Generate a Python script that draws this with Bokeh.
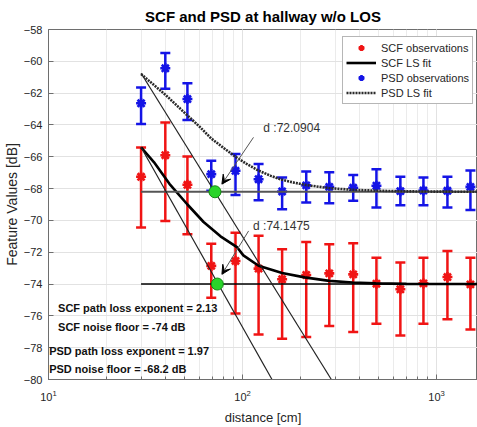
from bokeh.plotting import figure
from bokeh.models import (ColumnDataSource, Whisker, TeeHead, Arrow, VeeHead, Label,
                          Legend, LegendItem, FixedTicker, Range1d)
from bokeh.embed import file_html
from bokeh.resources import INLINE

# ---------------- data ----------------
distance = [30, 40, 52, 69, 92, 121, 160, 213, 280, 372, 490, 651, 856, 1138, 1495]

scf_mean = [-67.26, -65.90, -67.76, -72.86, -72.55, -73.03, -73.70, -73.43,
            -73.33, -73.39, -73.98, -74.33, -73.96, -73.56, -74.02]
scf_upper = [-65.41, -63.84, -65.98, -71.46, -70.77, -70.97, -71.82, -71.35,
             -71.50, -71.44, -72.34, -72.65, -72.34, -71.92, -72.34]
scf_lower = [-70.45, -70.03, -70.87, -74.86, -75.85, -77.17, -77.44, -77.33,
             -76.64, -77.02, -76.50, -77.23, -76.50, -76.22, -76.85]

psd_mean = [-62.64, -60.44, -62.37, -67.09, -66.88, -67.41, -68.18, -67.80,
            -67.89, -67.95, -67.82, -68.16, -68.12, -68.14, -67.89]
psd_upper = [-61.65, -59.47, -61.38, -66.25, -65.83, -66.46, -67.31, -66.93,
             -66.97, -67.15, -66.78, -67.25, -67.30, -67.25, -66.86]
psd_lower = [-63.94, -61.72, -63.69, -68.14, -68.41, -68.73, -69.30, -68.88,
             -68.92, -68.77, -69.19, -69.04, -69.04, -69.19, -69.34]

scf_fit_d = [30, 35, 42, 52, 63, 77, 94, 101, 121, 160, 209, 280, 369, 486, 700, 1000, 1626]
scf_fit_v = [-65.4, -66.35, -67.7, -69.0, -70.1, -71.0, -71.7, -72.2, -72.85, -73.3,
             -73.58, -73.8, -73.9, -73.96, -73.99, -74.0, -74.0]

psd_fit_d = [30, 40, 52, 60, 69, 80, 92, 105, 121, 140, 160, 185, 213, 280, 372, 490, 651, 1000, 1626]
psd_fit_v = [-60.8, -62.1, -63.4, -64.1, -64.85, -65.45, -66.0, -66.45, -66.87, -67.2,
             -67.45, -67.63, -67.78, -67.97, -68.08, -68.13, -68.17, -68.19, -68.2]

scf_pl_d = [30, 141.9]
scf_pl_v = [-65.4, -80.0]
psd_pl_d = [30, 287]
psd_pl_v = [-60.75, -80.0]

floor_d = [30, 1626]
scf_exponent, scf_floor, scf_cross = 2.13, -74.0, 74.1475
psd_exponent, psd_floor, psd_cross = 1.97, -68.2, 72.0904

y_ticks = list(range(-80, -57, 2))
x_limits = (10, 1626)
y_limits = (-80, -58)

info_texts = [
    f"SCF path loss exponent = {scf_exponent}",
    f"SCF noise floor = {scf_floor:g} dB",
    f"PSD path loss exponent = {psd_exponent}",
    f"PSD noise floor = {psd_floor:g} dB",
]

# ---------------- styling ----------------
RED = "#f01414"
BLUE = "#1414e6"
FONT = "Liberation Sans"
TXT = "#262626"

p = figure(frame_width=429, frame_height=350, x_axis_type="log",
           x_range=Range1d(*x_limits), y_range=Range1d(*y_limits),
           output_backend="svg", toolbar_location=None,
           min_border_left=40, min_border_right=0, min_border_top=24, min_border_bottom=10,
           title="SCF and PSD at hallway w/o LOS")

p.title.align = "center"
p.title.text_font = FONT
p.title.text_font_size = "15px"
p.title.text_font_style = "bold"
p.title.text_color = "black"

p.background_fill_color = "white"
p.border_fill_color = "white"
p.outline_line_color = "#6e6e6e"

p.xgrid.grid_line_color = "#e2e2e2"
p.xgrid.minor_grid_line_color = "#ebebeb"
p.ygrid.grid_line_color = "#e2e2e2"

p.yaxis.ticker = FixedTicker(ticks=y_ticks)

for ax in (p.xaxis[0], p.yaxis[0]):
    ax.axis_line_color = "#6e6e6e"
    ax.major_tick_line_color = "#6e6e6e"
    ax.minor_tick_line_color = "#6e6e6e"
    ax.major_tick_in = 5
    ax.major_tick_out = 0
    ax.minor_tick_in = 3
    ax.minor_tick_out = 0
    ax.major_label_text_font = FONT
    ax.major_label_text_font_size = "11px"
    ax.major_label_text_color = TXT
    ax.axis_label_text_font = FONT
    ax.axis_label_text_font_style = "normal"
    ax.axis_label_text_color = TXT

p.yaxis.minor_tick_line_color = None
p.yaxis.major_label_standoff = 6
p.yaxis.axis_label = "Feature Values [dB]"
p.yaxis.axis_label_text_font_size = "14px"
p.yaxis.axis_label_standoff = 1

p.xaxis.major_label_standoff = 10
p.xaxis.axis_label = "distance [cm]"
p.xaxis.axis_label_text_font_size = "13px"
p.xaxis.axis_label_standoff = 6

# error bars
src_scf = ColumnDataSource(dict(x=distance, y=scf_mean, upper=scf_upper, lower=scf_lower))
src_psd = ColumnDataSource(dict(x=distance, y=psd_mean, upper=psd_upper, lower=psd_lower))

for src, col in ((src_scf, RED), (src_psd, BLUE)):
    w = Whisker(base="x", upper="upper", lower="lower", source=src, dimension="height",
                line_color=col, line_width=2.5,
                upper_head=TeeHead(size=10, line_color=col, line_width=2.5),
                lower_head=TeeHead(size=10, line_color=col, line_width=2.5))
    p.add_layout(w)

r_scf_obs = p.scatter("x", "y", source=src_scf, marker="asterisk", size=10,
                      line_color=RED, line_width=2.6)
r_scf_fit = p.line(scf_fit_d, scf_fit_v, line_color="black", line_width=2.6)
r_psd_obs = p.scatter("x", "y", source=src_psd, marker="asterisk", size=10,
                      line_color=BLUE, line_width=2.6)

# floors and path loss lines
p.line(floor_d, [psd_floor, psd_floor], line_color="#555555", line_width=2)
p.line(floor_d, [scf_floor, scf_floor], line_color="black", line_width=1.4)
p.line(scf_pl_d, scf_pl_v, line_color="#222222", line_width=1.2)
p.line(psd_pl_d, psd_pl_v, line_color="#222222", line_width=1.2)

r_psd_fit = p.line(psd_fit_d, psd_fit_v, line_color="#2a2a2a", line_width=2.6, line_dash="2 1")

# crossing points
p.scatter([psd_cross, scf_cross], [psd_floor, scf_floor], marker="circle", size=12,
          fill_color="#2ad42a", line_color="#138a13", line_width=1)

# arrows and their labels
p.add_layout(Arrow(x_start=psd_cross * 1.58, y_start=psd_floor + 3.42,
                   x_end=psd_cross * 1.086, y_end=psd_floor + 0.48,
                   line_color="#555555", line_width=1,
                   end=VeeHead(size=9, fill_color="black", line_color="black")))
p.add_layout(Arrow(x_start=scf_cross * 1.45, y_start=scf_floor + 3.34,
                   x_end=scf_cross * 1.056, y_end=scf_floor + 0.61,
                   line_color="#555555", line_width=1,
                   end=VeeHead(size=9, fill_color="black", line_color="black")))
p.add_layout(Label(x=psd_cross * 1.776, y=psd_floor + 4.04, text=f"d :{psd_cross}",
                   text_font=FONT, text_font_size="12px", text_color="#333333",
                   text_baseline="middle"))
p.add_layout(Label(x=scf_cross * 1.528, y=scf_floor + 3.66, text=f"d :{scf_cross}",
                   text_font=FONT, text_font_size="12px", text_color="#333333",
                   text_baseline="middle"))

# info text block
info_x = [11.2, 11.2, 10.08, 10.08]
info_y = [-75.53, -76.68, -78.2, -79.37]
for tx, xx, yy in zip(info_texts, info_x, info_y):
    p.add_layout(Label(x=xx, y=yy, text=tx, text_font=FONT, text_font_size="11px",
                       text_font_style="bold", text_color="#111111", text_baseline="middle"))

legend = Legend(items=[
    LegendItem(label="SCF observations", renderers=[r_scf_obs]),
    LegendItem(label="SCF LS fit", renderers=[r_scf_fit]),
    LegendItem(label="PSD observations", renderers=[r_psd_obs]),
    LegendItem(label="PSD LS fit", renderers=[r_psd_fit]),
], location=(294, 275))
legend.label_text_font = FONT
legend.label_text_font_size = "11px"
legend.label_text_color = TXT
legend.glyph_height = 15
legend.label_height = 15
legend.glyph_width = 30
legend.label_standoff = 5
legend.spacing = 0
legend.padding = 3
legend.margin = 0
legend.border_line_color = "#6e6e6e"
legend.background_fill_color = "white"
legend.background_fill_alpha = 1
p.add_layout(legend)

open("out.html", "w").write(file_html(p, INLINE))
